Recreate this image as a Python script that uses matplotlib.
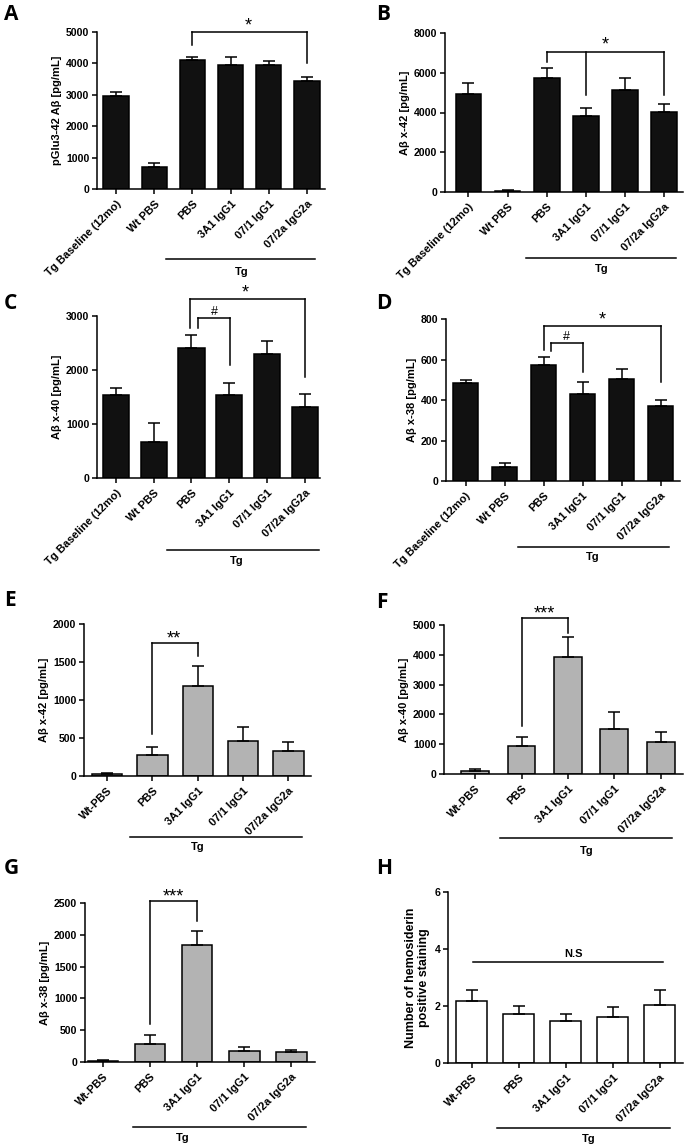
import numpy as np
import matplotlib
matplotlib.use("Agg")
import matplotlib.pyplot as plt

plt.rcParams['font.family'] = ['Liberation Sans', 'DejaVu Sans']
plt.rcParams['font.weight'] = 'bold'

W, H = 685, 1147

labels_full = ['Tg Baseline (12mo)', 'Wt PBS', 'PBS', '3A1 IgG1', '07/1 IgG1', '07/2a IgG2a']
labels_short = ['Wt-PBS', 'PBS', '3A1 IgG1', '07/1 IgG1', '07/2a IgG2a']

# mean and SEM
a_mean = [2970, 700, 4100, 3950, 3950, 3430]
a_sem = [110, 120, 110, 250, 130, 130]
b_mean = [4950, 50, 5750, 3800, 5150, 4030]
b_sem = [550, 30, 500, 450, 600, 400]
c_mean = [1530, 670, 2400, 1540, 2290, 1320]
c_sem = [130, 340, 250, 220, 250, 240]
d_mean = [485, 70, 575, 428, 505, 368]
d_sem = [15, 18, 35, 62, 50, 30]
e_mean = [25, 270, 1180, 455, 325]
e_sem = [15, 110, 270, 195, 125]
f_mean = [100, 930, 3910, 1500, 1080]
f_sem = [70, 300, 690, 590, 320]
g_mean = [20, 290, 1840, 175, 165]
g_sem = [10, 140, 220, 65, 25]
h_mean = [2.17, 1.73, 1.48, 1.63, 2.03]
h_sem = [0.38, 0.27, 0.24, 0.34, 0.52]

LW = 1.1
fig = plt.figure(figsize=(W / 100, H / 100), dpi=100)


def rect(x0, x1, ytop, ybot):
    return [x0 / W, 1 - ybot / H, (x1 - x0) / W, (ybot - ytop) / H]


def panel(r, means, sems, labels, color, ymax, yticks, ylabel, xlim, width,
          ylsize=8):
    ax = fig.add_axes(r)
    x = np.arange(len(means))
    ax.bar(x, means, width, color=color, edgecolor='black', linewidth=LW, zorder=2)
    ax.errorbar(x, means, yerr=[np.zeros(len(sems)), sems], fmt='none',
                ecolor='black', elinewidth=LW, capsize=4, capthick=LW, zorder=3)
    ax.set_xlim(*xlim)
    ax.set_ylim(0, ymax)
    ax.set_yticks(yticks)
    ax.set_xticks(x)
    ax.set_xticklabels(labels, rotation=45, ha='right', rotation_mode='anchor',
                       fontsize=8, fontweight='bold')
    ax.tick_params(axis='y', labelsize=7.6, width=LW, length=3.5, pad=2)
    ax.tick_params(axis='x', width=LW, length=3.5)
    for t in ax.get_yticklabels():
        t.set_fontweight('bold')
    for s in ['top', 'right']:
        ax.spines[s].set_visible(False)
    for s in ['left', 'bottom']:
        ax.spines[s].set_linewidth(LW)
    ax.set_ylabel(ylabel, fontsize=ylsize, fontweight='bold', labelpad=3)
    return ax


def group_line(ax, x1, x2, yl, xt, yt):
    tr = ax.get_xaxis_transform()
    ax.plot([x1, x2], [yl, yl], color='black', lw=LW, transform=tr, clip_on=False)
    ax.text(xt, yt, 'Tg', transform=tr, ha='center', va='center',
            fontsize=8, fontweight='bold')


def bracket(ax, xs, bottoms, top, text, tx, fs=13, dy=0.0):
    ax.plot([min(xs), max(xs)], [top, top], color='black', lw=LW, clip_on=False)
    for xv, b in zip(xs, bottoms):
        ax.plot([xv, xv], [b, top], color='black', lw=LW, clip_on=False)
    ax.annotate(text, xy=(tx, top), xytext=(0, dy), textcoords='offset points',
                ha='center', va='baseline', fontsize=fs, fontweight='normal',
                annotation_clip=False)


def letter(x, y, s):
    fig.text(x / W, 1 - y / H, s, fontsize=15, fontweight='bold',
             family=['Open Sans', 'DejaVu Sans'], va='top', ha='left')


# A
ax = panel(rect(97, 325, 32, 189), a_mean, a_sem, labels_full, '#111111',
           5000, [0, 1000, 2000, 3000, 4000, 5000], 'pGlu3-42 Aβ [pg/mL]',
           (-0.5, 5.47), 0.66)
bracket(ax, [2, 5], [4600, 4000], 5000, '*', 3.46, dy=1)
group_line(ax, 1.3, 5.22, -0.446, 3.3, -0.53)

# B
ax = panel(rect(445, 683, 33, 192), b_mean, b_sem, labels_full, '#111111',
           8000, [0, 2000, 4000, 6000, 8000], 'Aβ x-42 [pg/mL]',
           (-0.6, 5.49), 0.66)
bracket(ax, [2, 3, 5], [6550, 4880, 4880], 7050, '*', 3.5, dy=1.5)
group_line(ax, 1.47, 5.3, -0.415, 3.4, -0.485)

# C
ax = panel(rect(97, 320, 316, 478), c_mean, c_sem, labels_full, '#111111',
           3000, [0, 1000, 2000, 3000], 'Aβ x-40 [pg/mL]',
           (-0.5, 5.4), 0.69)
bracket(ax, [1.95, 5.0], [2772, 1879], 3315, '*', 3.42, dy=1)
bracket(ax, [2.16, 3.03], [2772, 2094], 2957, '#', 2.6, fs=9, dy=2.5)
group_line(ax, 1.34, 5.38, -0.444, 3.2, -0.51)

# D
ax = panel(rect(446, 680, 319, 481), d_mean, d_sem, labels_full, '#111111',
           800, [0, 200, 400, 600, 800], 'Aβ x-38 [pg/mL]',
           (-0.5, 5.5), 0.64)
bracket(ax, [2.0, 5.0], [648, 488], 764, '*', 3.5, dy=1)
bracket(ax, [2.18, 3.02], [640, 537], 681, '#', 2.59, fs=9, dy=2.5)
group_line(ax, 1.35, 5.22, -0.405, 3.27, -0.467)

# E
ax = panel(rect(84, 311, 624, 776), e_mean, e_sem, labels_short, '#b3b3b3',
           2000, [0, 500, 1000, 1500, 2000], 'Aβ x-42 [pg/mL]',
           (-0.51, 4.5), 0.67)
bracket(ax, [1, 2], [550, 1581], 1749, '**', 1.48)
group_line(ax, 0.51, 4.31, -0.40, 1.99, -0.47)

# F
ax = panel(rect(444, 683, 625, 774), f_mean, f_sem, labels_short, '#b3b3b3',
           5000, [0, 1000, 2000, 3000, 4000, 5000], 'Aβ x-40 [pg/mL]',
           (-0.67, 4.48), 0.6)
bracket(ax, [1, 2], [1596, 4743], 5223, '***', 1.5)
group_line(ax, 0.54, 4.24, -0.43, 2.4, -0.52)

# G
ax = panel(rect(85, 315, 903, 1062), g_mean, g_sem, labels_short, '#b3b3b3',
           2500, [0, 500, 1000, 1500, 2000, 2500], 'Aβ x-38 [pg/mL]',
           (-0.38, 4.5), 0.65)
bracket(ax, [1, 2], [590, 2221], 2526, '***', 1.5)
group_line(ax, 0.64, 4.3, -0.407, 1.7, -0.48)

# H
ax = panel(rect(448, 683, 892, 1063), h_mean, h_sem, labels_short, 'white',
           6, [0, 2, 4, 6], 'Number of hemosiderin\npositive staining',
           (-0.51, 4.5), 0.66, ylsize=9)
ax.plot([0.03, 4.07], [3.53, 3.53], color='black', lw=LW)
ax.text(2.16, 3.82, 'N.S', ha='center', va='center', fontsize=8, fontweight='bold')
group_line(ax, 0.53, 4.22, -0.38, 2.48, -0.445)

letter(4, 4, 'A')
letter(376, 4, 'B')
letter(4, 293, 'C')
letter(376, 293, 'D')
letter(4, 590, 'E')
letter(376, 592, 'F')
letter(4, 858, 'G')
letter(376, 858, 'H')

fig.savefig('out.png', dpi=100)
